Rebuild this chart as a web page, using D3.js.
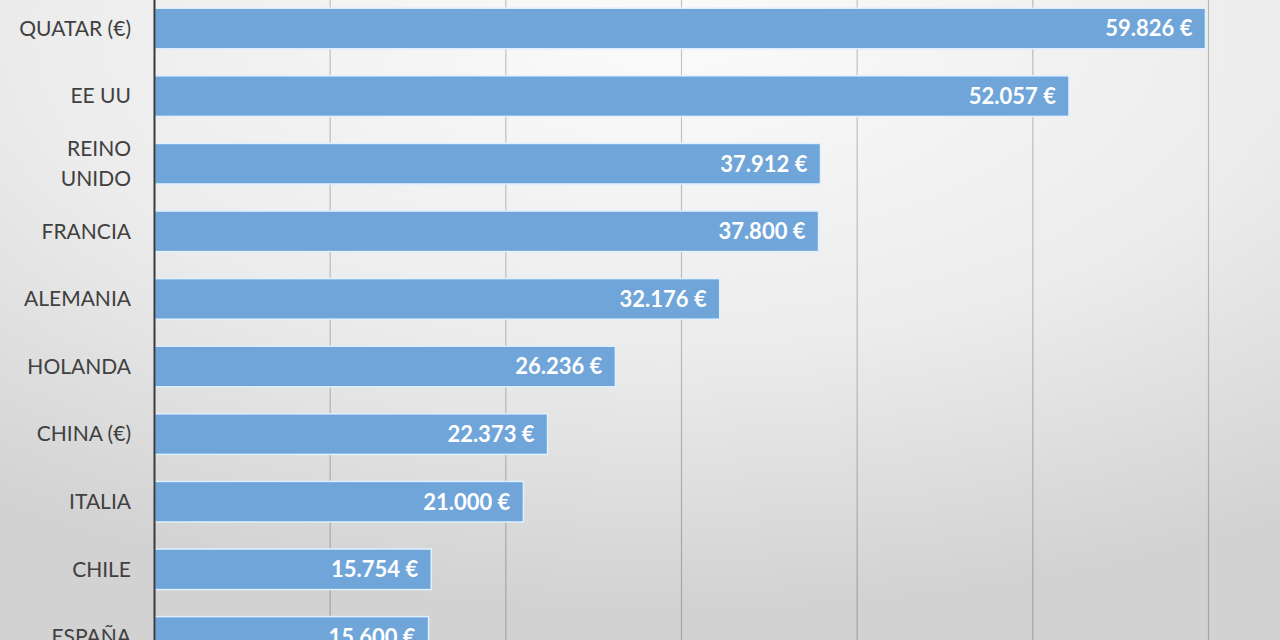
<!DOCTYPE html>
<html>
<head>
<meta charset="utf-8">
<script src="https://cdn.jsdelivr.net/npm/d3@7"></script>
<style>
  body { margin: 0; overflow: hidden; }
  .cat { font-family: Lato, "Open Sans", sans-serif; font-size: 21px; fill: #404040; }
  .val { font-family: Lato, "Open Sans", sans-serif; font-size: 22px; font-weight: bold; fill: #ffffff; }
</style>
</head>
<body>
<div id="chart"></div>
<script>
// chart data
var countries = ["QUATAR (€)", "EE UU", "REINO UNIDO", "FRANCIA", "ALEMANIA", "HOLANDA", "CHINA (€)", "ITALIA", "CHILE", "ESPAÑA"];
var salaries = [59826, 52057, 37912, 37800, 32176, 26236, 22373, 21000, 15754, 15600];
var gridTicks = [0, 10000, 20000, 30000, 40000, 50000, 60000];

var svgWidth = 1280;
var svgHeight = 640;

var svg = d3.select("#chart")
  .append("svg")
  .attr("width", svgWidth)
  .attr("height", svgHeight);

// background gradient
var defs = svg.append("defs");
var bg = defs.append("radialGradient")
  .attr("id", "bg")
  .attr("cx", "52%").attr("cy", "5%")
  .attr("r", "90%")
  .attr("fx", "52%").attr("fy", "5%");
bg.append("stop").attr("offset", "0%").attr("stop-color", "#fbfbfb");
bg.append("stop").attr("offset", "55%").attr("stop-color", "#ececec");
bg.append("stop").attr("offset", "100%").attr("stop-color", "#d2d2d2");

svg.append("rect")
  .attr("width", svgWidth)
  .attr("height", svgHeight)
  .attr("fill", "url(#bg)");

var data = countries.map(function(c, i) {
  return { country: c, value: salaries[i] };
});

// scales
var xScale = d3.scaleLinear()
  .domain([0, 60000])
  .range([154.5, 1208.5]);

var yScale = d3.scaleBand()
  .domain(countries)
  .range([-5.3, 670.7])
  .paddingInner(0.4)
  .paddingOuter(0.2);

// vertical gridlines
svg.append("g")
  .selectAll("line")
  .data(gridTicks.slice(1))
  .enter()
  .append("line")
  .attr("x1", d => xScale(d))
  .attr("x2", d => xScale(d))
  .attr("y1", 0)
  .attr("y2", svgHeight)
  .attr("stroke", "#000")
  .attr("stroke-opacity", 0.22)
  .attr("stroke-width", 1.2);

// bars
svg.append("g")
  .selectAll("rect")
  .data(data)
  .enter()
  .append("rect")
  .attr("x", xScale(0))
  .attr("y", d => yScale(d.country))
  .attr("width", d => xScale(d.value) - xScale(0))
  .attr("height", yScale.bandwidth())
  .attr("fill", "#6fa5d9")
  .attr("stroke", "#dff0ff")
  .attr("stroke-width", 1.5);

// value labels
var locale = d3.formatLocale({ decimal: ",", thousands: ".", grouping: [3], currency: ["", " €"] });
var fmt = locale.format(",.0f");

svg.append("g")
  .selectAll("text")
  .data(data)
  .enter()
  .append("text")
  .attr("class", "val")
  .attr("x", d => xScale(d.value) - 13)
  .attr("y", d => yScale(d.country) + yScale.bandwidth() / 2)
  .attr("dy", "0.36em")
  .attr("text-anchor", "end")
  .text(d => fmt(d.value) + " €");

// y axis line
svg.append("line")
  .attr("x1", 154.5).attr("x2", 154.5)
  .attr("y1", 0).attr("y2", svgHeight)
  .attr("stroke", "#3a3a3a")
  .attr("stroke-width", 2);

// category labels
var labels = svg.append("g")
  .selectAll("text")
  .data(data)
  .enter()
  .append("text")
  .attr("class", "cat")
  .attr("text-anchor", "end")
  .attr("y", d => yScale(d.country) + yScale.bandwidth() / 2);

labels.each(function(d) {
  var words = d.country === "REINO UNIDO" ? ["REINO", "UNIDO"] : [d.country];
  var t = d3.select(this);
  words.forEach(function(w, i) {
    t.append("tspan")
      .attr("x", 131)
      .attr("dy", i === 0 ? (0.35 - (words.length - 1) * 0.72) + "em" : "1.44em")
      .text(w);
  });
});
</script>
</body>
</html>
